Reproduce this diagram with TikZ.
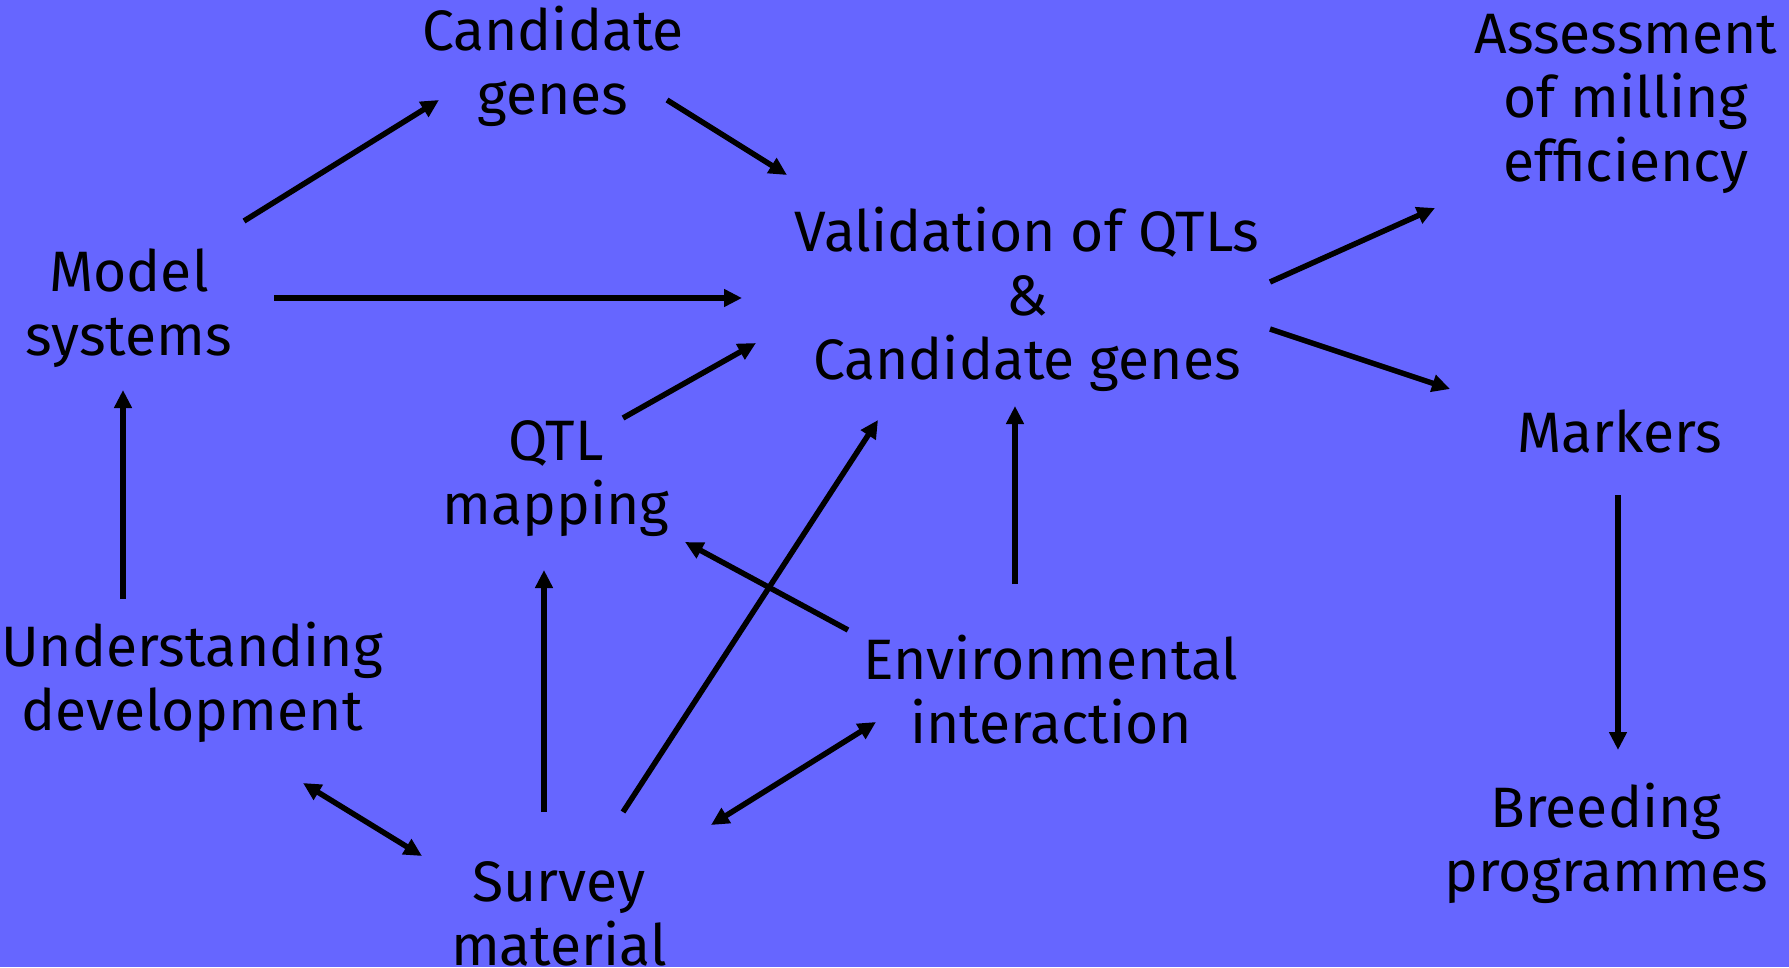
\documentclass[tikz,border=0pt]{standalone}
\usepackage{fontspec}
\setmainfont{Fira Sans}
\usetikzlibrary{arrows.meta}
\definecolor{bgblue}{HTML}{6666FF}
\tikzset{
  lbl/.style={align=center, inner sep=0pt, font=\fontsize{57}{64}\selectfont},
  arr/.style={line width=5.5pt, -{Triangle[length=18pt,width=17pt]}},
  darr/.style={line width=5.5pt, {Triangle[length=18pt,width=17pt]}-{Triangle[length=18pt,width=17pt]}}
}
\begin{document}
\begin{tikzpicture}[x=1pt,y=-1pt]
\fill[bgblue] (0,0) rectangle (1789,967);
\useasboundingbox (0,0) rectangle (1789,967);
\node[lbl] (cand) at (553,66) {Candidate\\genes};
\node[lbl] (model) at (129,308) {Model\\systems};
\node[lbl] (valid) at (1027,299) {Validation of QTLs\\\&\\Candidate genes};
\node[lbl] (assess) at (1626,104) {Assessment\\of milling\\efficiency};
\node[lbl] (markers) at (1620,431) {Markers};
\node[lbl] (qtl) at (556,479) {QTL\\mapping};
\node[lbl] (under) at (192,682) {Understanding\\development};
\node[lbl] (env) at (1051,690) {Environmental\\interaction};
\node[lbl] (breed) at (1606,843) {Breeding\\programmes};
\node[lbl] (survey) at (559,914) {Survey\\material};
\draw[arr] ([shift={(115,-87)}]model.center) -- ([shift={(-114,34)}]cand.center);
\draw[arr] ([shift={(114,34)}]cand.center) -- ([shift={(-240,-124)}]valid.center);
\draw[arr] ([shift={(145,-10)}]model.center) -- ([shift={(-285,-1)}]valid.center);
\draw[arr] ([shift={(67,-61)}]qtl.center) -- ([shift={(-271,44)}]valid.center);
\draw[arr] ([shift={(-69,-83)}]under.center) -- ([shift={(-6,82)}]model.center);
\draw[arr] ([shift={(-15,-102)}]survey.center) -- ([shift={(-12,91)}]qtl.center);
\draw[arr] ([shift={(64,-102)}]survey.center) -- ([shift={(-149,121)}]valid.center);
\draw[arr] ([shift={(-203,-60)}]env.center) -- ([shift={(129,63)}]qtl.center);
\draw[arr] ([shift={(-36,-106)}]env.center) -- ([shift={(-12,107)}]valid.center);
\draw[darr] ([shift={(111,101)}]under.center) -- ([shift={(-137,-58)}]survey.center);
\draw[darr] ([shift={(152,-89)}]survey.center) -- ([shift={(-175,32)}]env.center);
\draw[arr] ([shift={(243,-17)}]valid.center) -- ([shift={(-191,104)}]assess.center);
\draw[arr] ([shift={(243,30)}]valid.center) -- ([shift={(-170,-42)}]markers.center);
\draw[arr] ([shift={(-2,64)}]markers.center) -- ([shift={(12,-93)}]breed.center);
\end{tikzpicture}
\end{document}
